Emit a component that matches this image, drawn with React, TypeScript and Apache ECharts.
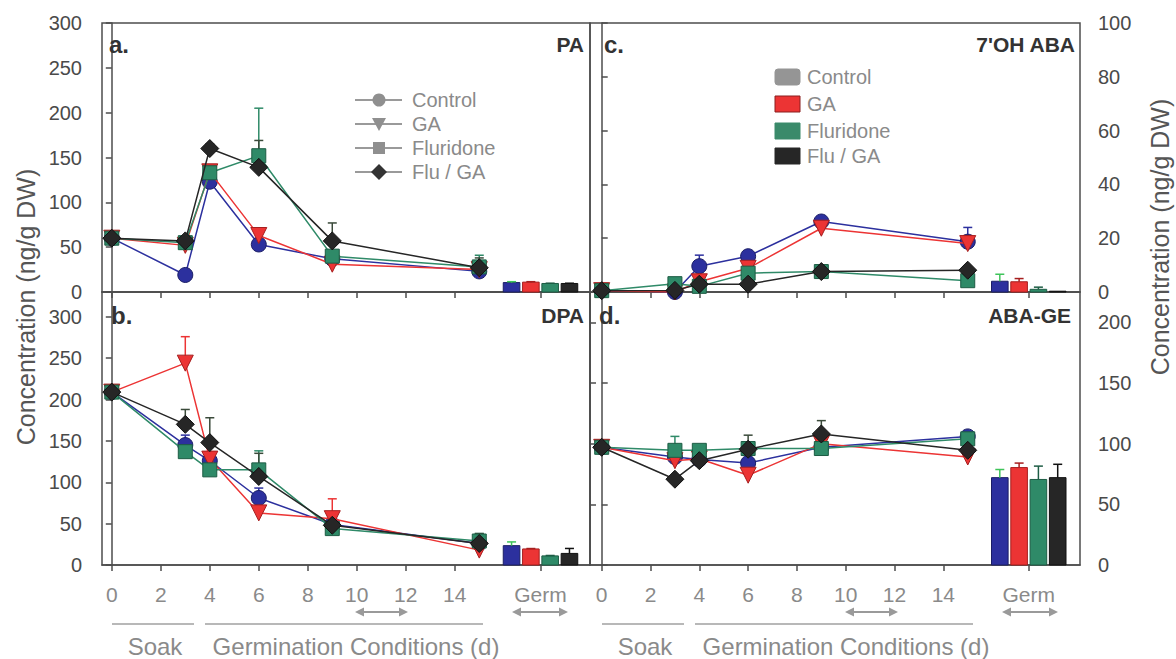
import React, { useEffect, useRef } from 'react';
import * as echarts from 'echarts';

// ---------- data ----------
const days = [0, 3, 4, 6, 9, 15];
const treatments = ['Control', 'GA', 'Fluridone', 'Flu / GA'];
const germPosition = 17.5;
const xTickValues = [0, 2, 4, 6, 8, 10, 12, 14, 17.5];
const germLabel = 'Germ';

// a. PA
const paControl = [60, 19, 123, 53, 37, 23];
const paGA = [60, 52, 134, 63, 31, 25];
const paFlu = [60, 55, 133, 152, 40, 28];
const paFluGA = [60, 57, 160, 139, 57, 27];
const paControlErr = [2, 0, 3, 3, 2, 3];
const paGAErr = [2, 3, 8, 3, 2, 4];
const paFluErr = [2, 2, 6, 53, 3, 13];
const paFluGAErr = [2, 3, 5, 30, 20, 11];
const paGerm = [10.5, 11, 9.5, 9.5];
const paGermErr = [1, 0.5, 0.3, 0.3];

// b. DPA
const dpaControl = [209, 145, 126, 81, 49, 26];
const dpaGA = [209, 244, 128, 63, 56, 18];
const dpaFlu = [209, 137, 115, 115, 44, 29];
const dpaFluGA = [209, 170, 148, 107, 48, 26];
const dpaControlErr = [2, 12, 5, 12, 5, 5];
const dpaGAErr = [2, 32, 5, 4, 24, 4];
const dpaFluErr = [2, 5, 5, 23, 5, 9];
const dpaFluGAErr = [2, 18, 30, 28, 5, 12];
const dpaGerm = [23.4, 19.4, 11, 14];
const dpaGermErr = [4.5, 0.5, 0.5, 6];

// c. 7'OH ABA
const ohControl = [0.6, 0, 9.6, 13.3, 26.2, 18.7];
const ohGA = [0.5, 0, 3.8, 8.8, 23.7, 18];
const ohFlu = [0.5, 3.1, 2.1, 7, 7.6, 4.2];
const ohFluGA = [0.5, 0.6, 2.9, 2.9, 7.6, 8.1];
const ohControlErr = [0, 0, 4.1, 0.5, 1, 5.3];
const ohGAErr = [0, 0, 1, 1, 4.3, 3];
const ohFluErr = [0, 0, 0.5, 0.5, 0.5, 0.5];
const ohFluGAErr = [0, 0, 0.5, 0.5, 0.8, 0.5];
const ohGerm = [4, 3.8, 1, 0.3];
const ohGermErr = [2.6, 1.2, 0.8, 0];

// d. ABA-GE
const geControl = [97, 89, 87, 84, 97, 106];
const geGA = [97, 86, 87.5, 74, 100, 89];
const geFlu = [97, 94.5, 94.5, 96, 96, 104];
const geFluGA = [97, 70.7, 86, 95.4, 108, 94.5];
const geControlErr = [1, 2, 2, 3, 2, 2];
const geGAErr = [1, 2, 2, 2, 2, 2];
const geFluErr = [1, 11.5, 2, 2, 2, 2];
const geFluGAErr = [1, 2, 2, 11.6, 11, 2];
const geGerm = [72, 80.3, 70.5, 72];
const geGermErr = [6.7, 3.7, 11, 11];

// ---------- style ----------
const FONT = '"Liberation Sans", Arial, Helvetica, sans-serif';
const colors = ['#2c309e', '#ec3434', '#2f8a68', '#262626'];
const borders = ['#1b1e66', '#a61f1f', '#1d5c44', '#111111'];
const symbols = ['circle', 'triangle', 'rect', 'diamond'];
const symbolSizes = [15, 16, 14, 18];
const symbolRotates = [0, 180, 0, 0];
const AXIS = '#4d4d4d';
const LABEL = '#4a4a4a';
const LIGHT = '#8a8a8a';

const panels = [
  { title: 'a.', name: 'PA', lines: [paControl, paGA, paFlu, paFluGA], errs: [paControlErr, paGAErr, paFluErr, paFluGAErr], germ: paGerm, germErr: paGermErr },
  { title: 'b.', name: 'DPA', lines: [dpaControl, dpaGA, dpaFlu, dpaFluGA], errs: [dpaControlErr, dpaGAErr, dpaFluErr, dpaFluGAErr], germ: dpaGerm, germErr: dpaGermErr },
  { title: 'c.', name: "7'OH ABA", lines: [ohControl, ohGA, ohFlu, ohFluGA], errs: [ohControlErr, ohGAErr, ohFluErr, ohFluGAErr], germ: ohGerm, germErr: ohGermErr },
  { title: 'd.', name: 'ABA-GE', lines: [geControl, geGA, geFlu, geFluGA], errs: [geControlErr, geGAErr, geFluErr, geFluGAErr], germ: geGerm, germErr: geGermErr },
];

function errRender(color: string) {
  return (params: any, api: any) => {
    const x = api.value(0);
    const v = api.value(1);
    const e = api.value(2);
    if (!e || e <= 0) return null;
    const p0 = api.coord([x, v]);
    const p1 = api.coord([x, v + e]);
    return {
      type: 'group',
      children: [
        { type: 'line', shape: { x1: p0[0], y1: p0[1], x2: p1[0], y2: p1[1] }, style: { stroke: color, lineWidth: 1.5 } },
        { type: 'line', shape: { x1: p1[0] - 4.5, y1: p1[1], x2: p1[0] + 4.5, y2: p1[1] }, style: { stroke: color, lineWidth: 1.5 } },
      ],
    };
  };
}

function barRender(params: any, api: any) {
  const x = api.value(0);
  const v = api.value(1);
  const e = api.value(2);
  const idx = api.value(3);
  const base = api.coord([x, 0]);
  const top = api.coord([x, v]);
  const cx = base[0] + (idx - 1.5) * 19.3;
  const children: any[] = [
    { type: 'rect', shape: { x: cx - 8.3, y: top[1], width: 16.6, height: base[1] - top[1] }, style: { fill: colors[idx], stroke: borders[idx], lineWidth: 1 } },
  ];
  if (e > 0) {
    const pe = api.coord([x, v + e]);
    const ec = idx === 0 ? '#3fc45a' : borders[idx];
    children.push({ type: 'line', shape: { x1: cx, y1: top[1], x2: cx, y2: pe[1] }, style: { stroke: ec, lineWidth: 1.5 } });
    children.push({ type: 'line', shape: { x1: cx - 4.5, y1: pe[1], x2: cx + 4.5, y2: pe[1] }, style: { stroke: ec, lineWidth: 1.5 } });
  }
  return { type: 'group', children };
}

function txt(text: string, x: number, y: number, o: any = {}) {
  const align = o.align || 'left';
  return {
    type: 'text',
    x,
    y,
    rotation: o.rotation || 0,
    z: 10,
    style: {
      text,
      fill: o.fill || LIGHT,
      fontSize: o.fontSize || 20,
      fontWeight: o.fontWeight || 'normal',
      fontFamily: FONT,
      align,
      textAlign: align,
      verticalAlign: 'middle',
      textVerticalAlign: 'middle',
    },
  };
}

function hline(x1: number, x2: number, y: number, color = '#9a9a9a', w = 1.5) {
  return { type: 'line', z: 10, shape: { x1, y1: y, x2, y2: y }, style: { stroke: color, lineWidth: w } };
}

function arrow(x1: number, x2: number, y: number) {
  const c = '#9a9a9a';
  return [
    hline(x1 + 4, x2 - 4, y, c, 2),
    { type: 'polygon', z: 10, shape: { points: [[x1, y], [x1 + 9, y - 4.5], [x1 + 9, y + 4.5]] }, style: { fill: c } },
    { type: 'polygon', z: 10, shape: { points: [[x2, y], [x2 - 9, y - 4.5], [x2 - 9, y + 4.5]] }, style: { fill: c } },
  ];
}

export default function App() {
  const ref = useRef<HTMLDivElement>(null);

  useEffect(() => {
    if (!ref.current) return;
    const chart = echarts.init(ref.current, undefined, { renderer: 'svg' });

    const grids = [
      { left: 102, top: 23, width: 488, height: 269 },
      { left: 102, top: 292, width: 488, height: 273 },
      { left: 590, top: 23, width: 490, height: 269 },
      { left: 590, top: 292, width: 490, height: 273 },
    ].map((g) => ({ ...g, show: true, borderColor: AXIS, borderWidth: 1.5, backgroundColor: 'transparent', containLabel: false }));

    const xAxis = [0, 1, 2, 3].map((g) => ({
      type: 'value',
      gridIndex: g,
      min: g < 2 ? -0.4 : -0.48,
      max: g < 2 ? 19.52 : 19.6,
      axisLine: { show: true, onZero: false, lineStyle: { color: AXIS, width: 1.5 } },
      axisTick: { show: true, customValues: xTickValues, length: 6, lineStyle: { color: AXIS, width: 1.5 } },
      axisLabel: {
        show: g === 1 || g === 3,
        customValues: xTickValues,
        formatter: (v: number) => (v === germPosition ? germLabel : String(v)),
        color: LIGHT,
        fontSize: 21,
        fontFamily: FONT,
        margin: 19,
      },
      splitLine: { show: false },
    }));

    const yLabel = (margin: number, custom?: number[]) => ({
      color: LABEL,
      fontSize: 20,
      fontFamily: FONT,
      margin,
      ...(custom ? { customValues: custom } : {}),
    });
    const yTick = (custom?: number[], inside = false) => ({
      show: true,
      length: 6,
      inside,
      lineStyle: { color: AXIS, width: 1.5 },
      ...(custom ? { customValues: custom } : {}),
    });
    const yLine = { show: true, lineStyle: { color: AXIS, width: 1.5 } };

    const yAxis = [
      { type: 'value', gridIndex: 0, position: 'left', min: 0, max: 300, interval: 50, axisLine: yLine, axisTick: yTick(), axisLabel: yLabel(20), splitLine: { show: false } },
      { type: 'value', gridIndex: 1, position: 'left', min: 0, max: 330, interval: 50, axisLine: yLine, axisTick: yTick([0, 50, 100, 150, 200, 250, 300]), axisLabel: yLabel(20, [0, 50, 100, 150, 200, 250, 300]), splitLine: { show: false } },
      { type: 'value', gridIndex: 2, position: 'right', min: 0, max: 100, interval: 20, axisLine: yLine, axisTick: yTick(), axisLabel: yLabel(18), splitLine: { show: false } },
      { type: 'value', gridIndex: 3, position: 'right', min: 0, max: 225, interval: 50, axisLine: yLine, axisTick: yTick([0, 50, 100, 150, 200]), axisLabel: yLabel(18, [0, 50, 100, 150, 200]), splitLine: { show: false } },
      { type: 'value', gridIndex: 3, position: 'left', min: 0, max: 225, interval: 50, axisLine: yLine, axisTick: yTick([50, 100, 150, 200], true), axisLabel: { show: false }, splitLine: { show: false } },
    ];

    const series: any[] = [];
    panels.forEach((p, g) => {
      p.lines.forEach((vals, t) => {
        series.push({
          type: 'custom',
          name: treatments[t] + ' err',
          xAxisIndex: g,
          yAxisIndex: g,
          z: 1,
          renderItem: errRender(t === 3 ? '#3a4a3a' : colors[t]),
          encode: { x: 0, y: 1 },
          data: days.map((d, i) => [d, vals[i], p.errs[t][i]]),
          silent: true,
        });
      });
      p.lines.forEach((vals, t) => {
        series.push({
          type: 'line',
          name: treatments[t],
          xAxisIndex: g,
          yAxisIndex: g,
          z: 3 + t,
          data: days.map((d, i) => [d, vals[i]]),
          symbol: symbols[t],
          symbolSize: symbolSizes[t],
          symbolRotate: symbolRotates[t],
          showSymbol: true,
          lineStyle: { color: colors[t], width: 1.5 },
          itemStyle: { color: colors[t], borderColor: borders[t], borderWidth: 1 },
          silent: true,
        });
      });
      series.push({
        type: 'custom',
        name: 'Germ',
        xAxisIndex: g,
        yAxisIndex: g,
        z: 2,
        renderItem: barRender,
        encode: { x: 0, y: 1 },
        data: p.germ.map((v, i) => [germPosition, v, p.germErr[i], i]),
        silent: true,
      });
    });

    const graphic: any[] = [];
    const titlePos = [
      { tx: 109, nx: 584, y: 44 },
      { tx: 111, nx: 584, y: 315 },
      { tx: 604, nx: 1075, y: 44 },
      { tx: 599, nx: 1071, y: 315 },
    ];
    panels.forEach((p, g) => {
      const tp = titlePos[g];
      graphic.push(txt(p.title, tp.tx, tp.y, { fill: '#333', fontSize: 24, fontWeight: 'bold' }));
      graphic.push(txt(p.name, tp.nx, tp.y, { fill: '#333', fontSize: 21, fontWeight: 'bold', align: 'right' }));
    });

    const legA = [100, 124, 148, 172];
    legA.forEach((y, t) => {
      graphic.push(hline(355, 402, y, '#9a9a9a', 1.8));
      const cx = 379;
      const fill = t === 3 ? '#333' : '#8f8f8f';
      if (t === 0) graphic.push({ type: 'circle', z: 11, shape: { cx, cy: y, r: 6.5 }, style: { fill } });
      if (t === 1) graphic.push({ type: 'polygon', z: 11, shape: { points: [[cx - 7, y - 6], [cx + 7, y - 6], [cx, y + 7]] }, style: { fill } });
      if (t === 2) graphic.push({ type: 'rect', z: 11, shape: { x: cx - 6, y: y - 6, width: 12, height: 12 }, style: { fill } });
      if (t === 3) graphic.push({ type: 'polygon', z: 11, shape: { points: [[cx, y - 8], [cx + 8, y], [cx, y + 8], [cx - 8, y]] }, style: { fill } });
      graphic.push(txt(treatments[t], 412, y, { fontSize: 20 }));
    });

    const legC = [77, 104, 131, 156];
    const swatch = ['#959595', colors[1], '#3a8a6a', colors[3]];
    legC.forEach((y, t) => {
      graphic.push({ type: 'rect', z: 11, shape: { x: 775, y: y - 8, width: 25, height: 16, r: t === 0 ? 3 : 0 }, style: { fill: swatch[t], stroke: t === 1 ? '#8a1f1f' : swatch[t], lineWidth: 1 } });
      graphic.push(txt(treatments[t], 807, y, { fontSize: 20 }));
    });

    graphic.push(txt('Concentration (ng/g DW)', 26, 307, { fill: '#555', fontSize: 25, align: 'center', rotation: Math.PI / 2 }));
    graphic.push(txt('Concentration (ng/g DW)', 1160, 237, { fill: '#555', fontSize: 25, align: 'center', rotation: Math.PI / 2 }));

    [0, 490].forEach((dx) => {
      graphic.push(...arrow(355 + dx, 408 + dx, 612));
      graphic.push(...arrow(512 + dx, 568 + dx, 612));
      graphic.push(hline(112 + dx, 194 + dx, 624, '#a0a0a0', 1.5));
      graphic.push(hline(205 + dx, 483 + dx, 624, '#a0a0a0', 1.5));
      graphic.push(txt('Soak', 155 + dx, 646, { fontSize: 24, align: 'center' }));
      graphic.push(txt('Germination Conditions (d)', 356 + dx, 646, { fontSize: 24, align: 'center' }));
    });

    chart.setOption({
      animation: false,
      backgroundColor: '#ffffff',
      textStyle: { fontFamily: FONT },
      grid: grids,
      xAxis,
      yAxis,
      series,
      graphic,
    });

    return () => chart.dispose();
  }, []);

  return <div ref={ref} style={{ position: 'absolute', left: 0, top: 0, width: 1176, height: 659 }} />;
}
